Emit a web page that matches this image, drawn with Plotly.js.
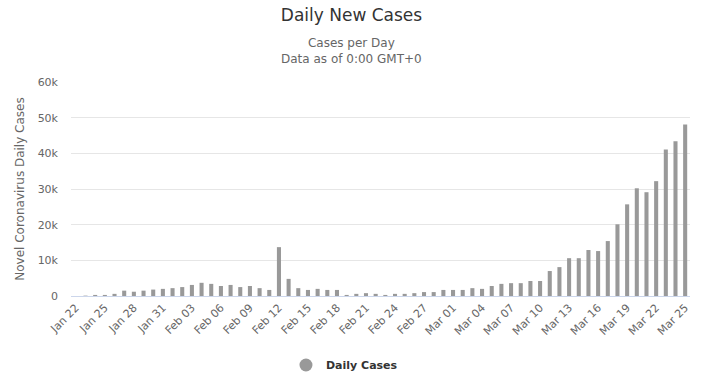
<!DOCTYPE html>
<html>
<head>
<meta charset="utf-8">
<script src="https://cdn.plot.ly/plotly-3.0.1.min.js"></script>
<style>html,body{margin:0;padding:0;background:#fff;}#chart{width:703px;height:383px;}</style>
</head>
<body>
<div id="chart"></div>
<script>
const dates = [
  "Jan 22","Jan 23","Jan 24","Jan 25","Jan 26","Jan 27","Jan 28","Jan 29","Jan 30","Jan 31",
  "Feb 01","Feb 02","Feb 03","Feb 04","Feb 05","Feb 06","Feb 07","Feb 08","Feb 09","Feb 10",
  "Feb 11","Feb 12","Feb 13","Feb 14","Feb 15","Feb 16","Feb 17","Feb 18","Feb 19","Feb 20",
  "Feb 21","Feb 22","Feb 23","Feb 24","Feb 25","Feb 26","Feb 27","Feb 28","Feb 29","Mar 01",
  "Mar 02","Mar 03","Mar 04","Mar 05","Mar 06","Mar 07","Mar 08","Mar 09","Mar 10","Mar 11",
  "Mar 12","Mar 13","Mar 14","Mar 15","Mar 16","Mar 17","Mar 18","Mar 19","Mar 20","Mar 21",
  "Mar 22","Mar 23","Mar 24","Mar 25"
];
const dailyCases = [
  0, 100, 300, 300, 600, 1500, 1200, 1500, 1800, 2000,
  2200, 2500, 3100, 3700, 3400, 2800, 3100, 2500, 2800, 2200,
  1700, 13700, 4800, 2200, 1700, 2000, 1700, 1700, 300, 600,
  800, 600, 300, 600, 600, 800, 1100, 1100, 1700, 1700,
  1700, 2200, 2000, 2800, 3400, 3600, 3600, 4200, 4200, 7000,
  8100, 10600, 10600, 12900, 12600, 15400, 20100, 25700, 30200, 29100,
  32200, 41100, 43400, 48100
];
const tickLabels = dates.filter((d, i) => i % 3 === 0);
const yTicks = [0, 10000, 20000, 30000, 40000, 50000, 60000];
const yTickText = ["0", "10k", "20k", "30k", "40k", "50k", "60k"];

const font = "DejaVu Sans, Verdana, Arial, sans-serif";
const traces = [
  {
    type: "bar",
    x: dates,
    y: dailyCases,
    name: "Daily Cases",
    marker: {color: "#999999"},
    showlegend: false,
    hoverinfo: "x+y"
  },
  {
    type: "scatter",
    mode: "markers",
    x: [null],
    y: [null],
    name: "Daily Cases",
    marker: {color: "#999999", size: 13, symbol: "circle"},
    showlegend: true
  }
];
const layout = {
  width: 703,
  height: 383,
  margin: {l: 71, r: 13, t: 82, b: 87},
  paper_bgcolor: "#ffffff",
  plot_bgcolor: "#ffffff",
  font: {family: font, color: "#666666", size: 11},
  title: {
    text: "Daily New Cases",
    font: {family: font, size: 17, color: "#333333"},
    x: 0.5, xref: "container", xanchor: "center",
    y: 1 - 15/383, yref: "container", yanchor: "middle"
  },
  annotations: [
    {
      text: "Cases per Day<br>Data as of 0:00 GMT+0",
      xref: "paper", yref: "paper",
      x: (351.5 - 71) / 619, y: 1 + (82 - 51) / 214,
      xanchor: "center", yanchor: "middle",
      showarrow: false,
      align: "center",
      font: {family: font, size: 12, color: "#666666"}
    }
  ],
  bargap: 0.58,
  xaxis: {
    type: "category",
    tickmode: "array",
    tickvals: tickLabels,
    ticktext: tickLabels,
    tickangle: -45,
    tickfont: {family: font, size: 11, color: "#666666"},
    showgrid: false,
    showline: true,
    linecolor: "#ccd6eb",
    linewidth: 1,
    ticks: "",
    zeroline: false,
    fixedrange: true
  },
  yaxis: {
    range: [0, 60000],
    tickmode: "array",
    tickvals: yTicks,
    ticktext: yTickText,
    tickfont: {family: font, size: 11, color: "#666666"},
    ticklabelstandoff: 12,
    showgrid: true,
    gridcolor: "#e6e6e6",
    zeroline: false,
    showline: false,
    ticks: "",
    title: {text: "Novel Coronavirus Daily Cases", font: {family: font, size: 12, color: "#666666"}, standoff: 10},
    fixedrange: true
  },
  legend: {
    orientation: "h",
    xref: "container", yref: "container",
    x: 0.49, xanchor: "center",
    y: 18/383, yanchor: "middle",
    itemwidth: 30,
    font: {family: font, size: 11, color: "#333333", weight: "bold"}
  },
  showlegend: true
};
Plotly.newPlot("chart", traces, layout, {displayModeBar: false, staticPlot: true});
</script>
</body>
</html>
